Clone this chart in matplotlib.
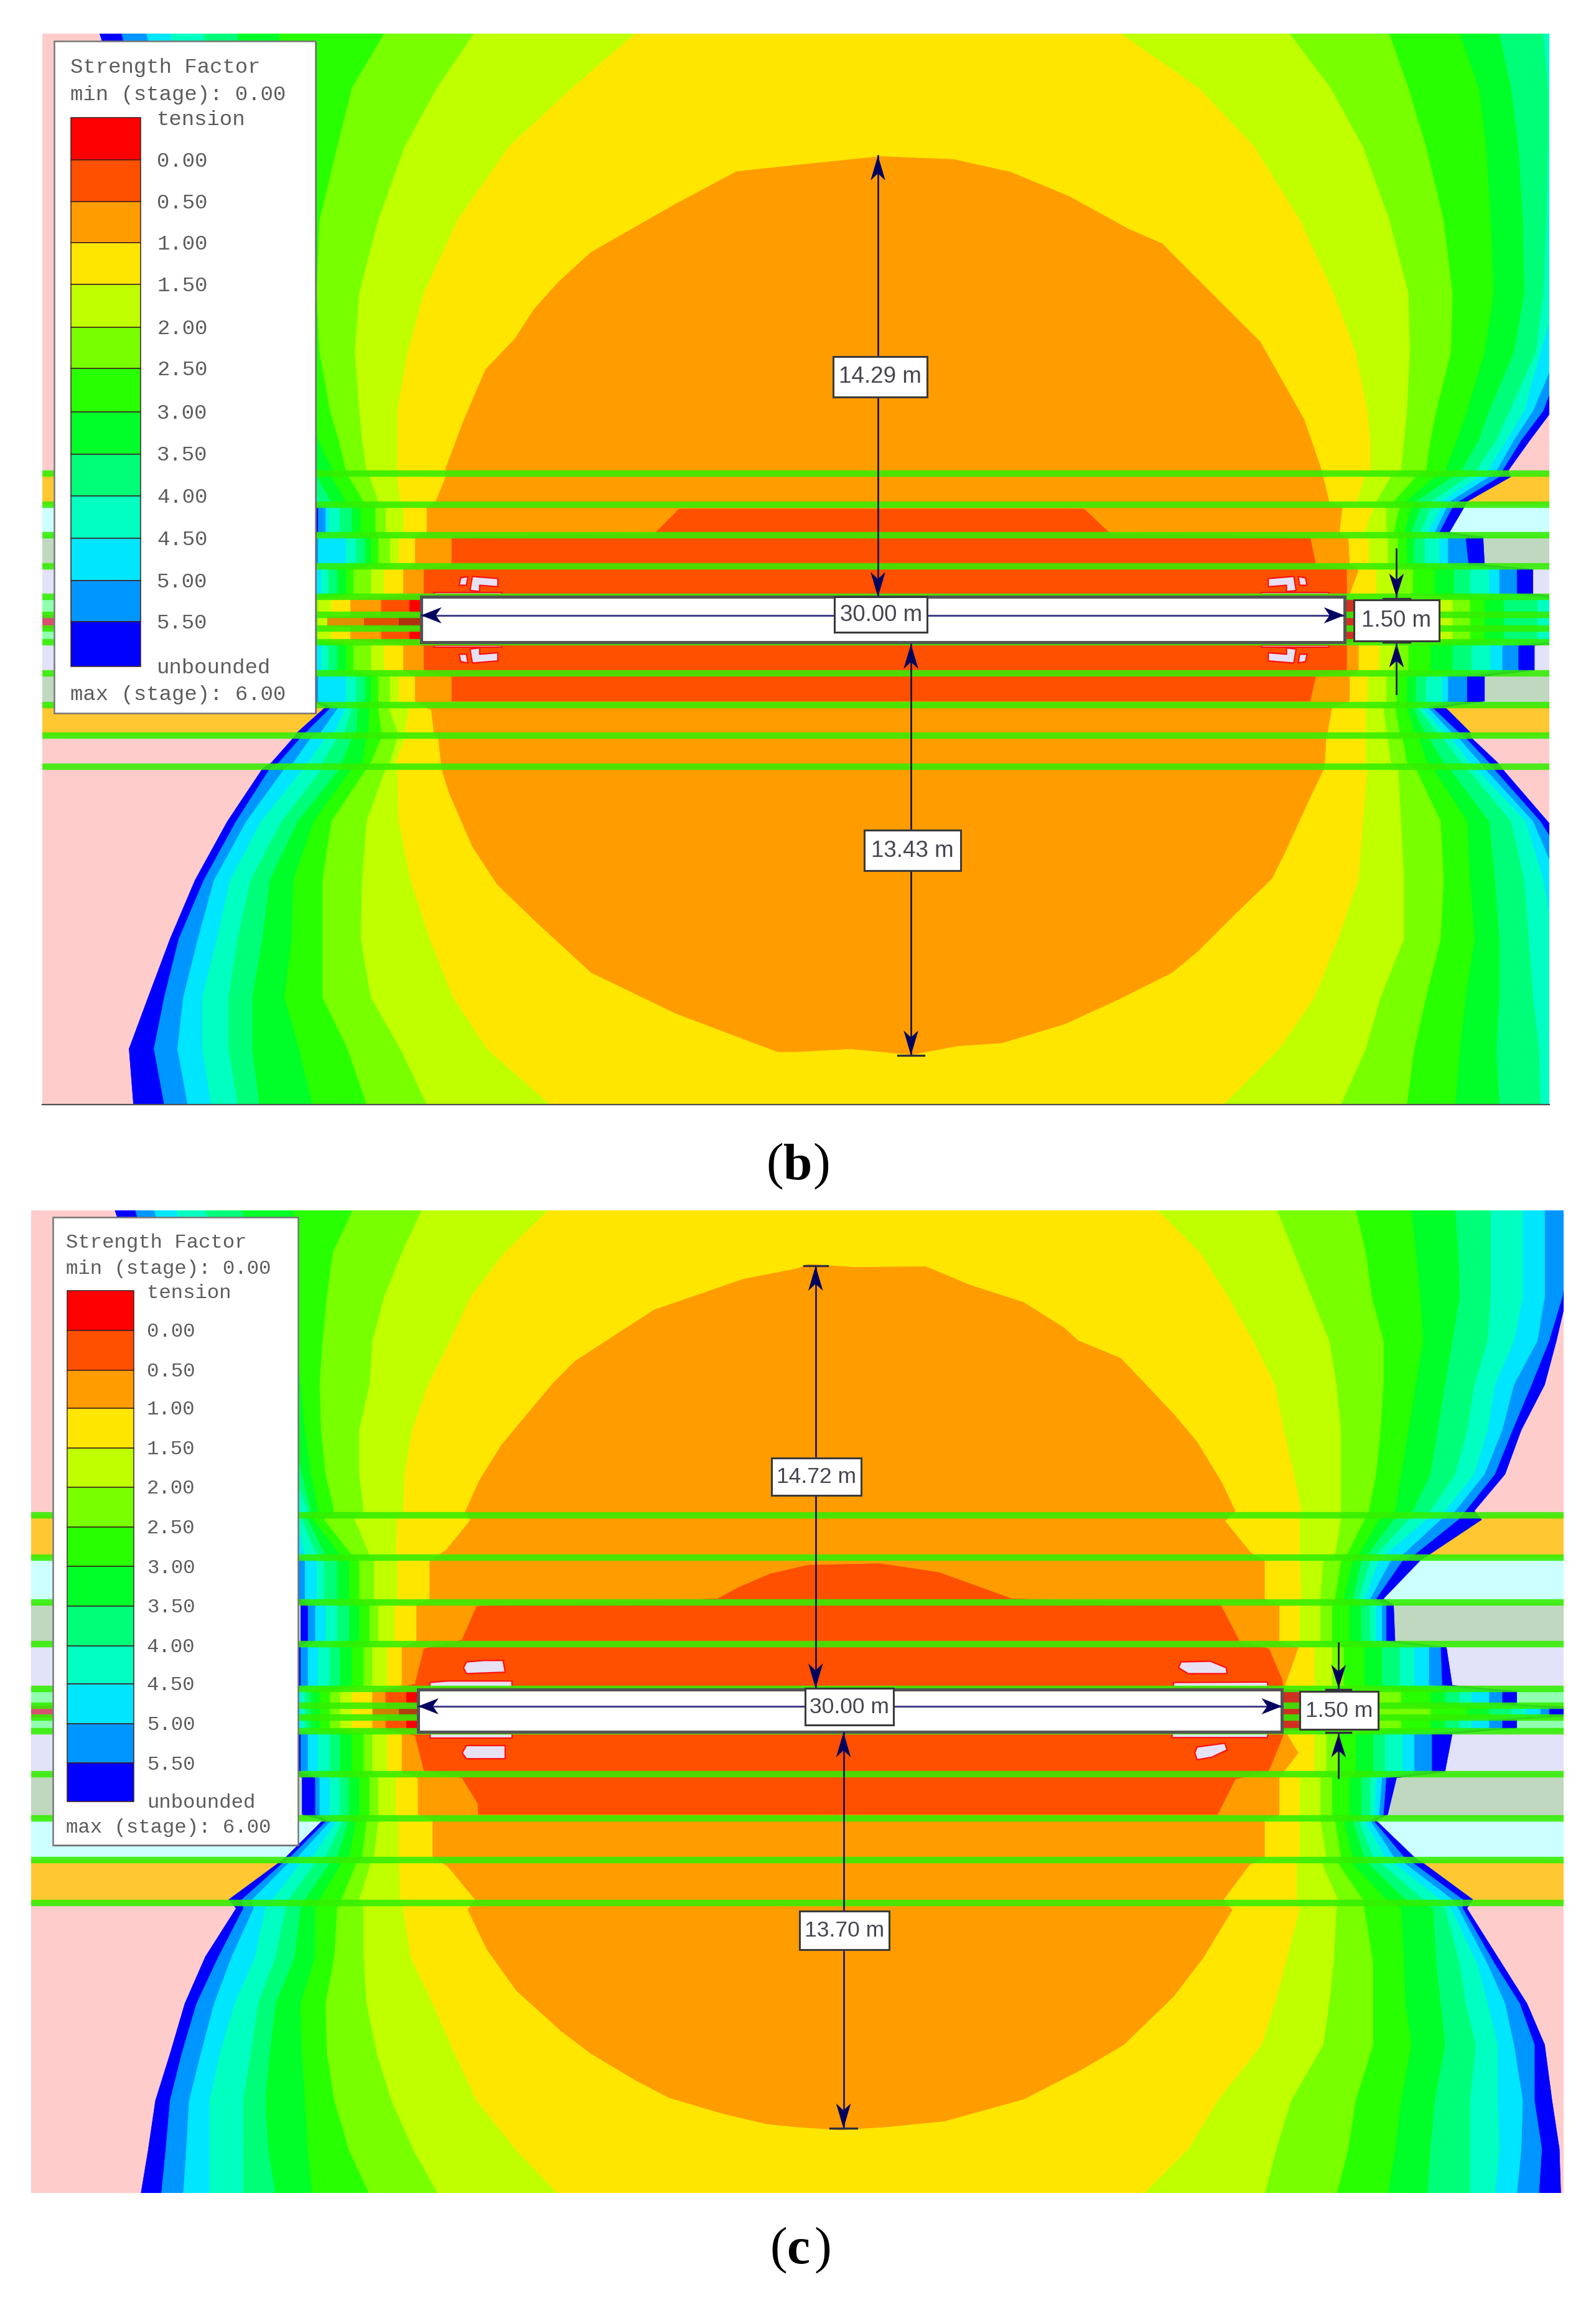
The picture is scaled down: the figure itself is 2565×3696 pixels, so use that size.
import matplotlib
matplotlib.use('Agg')
import matplotlib.pyplot as plt
from matplotlib.patches import Polygon, Rectangle

# all coordinates are picture units (reference shrunk to 1088x1568)

LEVEL_COLORS = ['#0000ff', '#0096ff', '#00e6ff', '#00ffc0', '#00ff78', '#00ff28',
                '#28ff00', '#78ff00', '#bfff00', '#ffe600']
ORANGE = '#ff9c00'
REDORANGE = '#ff5000'
LEGEND_COLORS = ['#ff0000', '#ff5000', '#ff9c00', '#ffe600', '#bfff00', '#78ff00', '#28ff00',
                 '#00ff28', '#00ff78', '#00ffc0', '#00e6ff', '#0096ff', '#0000ff']
LEGEND_VALUES = ['0.00', '0.50', '1.00', '1.50', '2.00', '2.50', '3.00', '3.50',
                 '4.00', '4.50', '5.00', '5.50']

PINK = '#ffcccc'
AMBER = '#ffc833'
PALECYAN = '#ccffff'
GREYGREEN = '#c0d8c0'
LAVENDER = '#e2e2f8'
PALEGREEN = '#90ffb0'

# ---------- panel b ----------
B_PANEL = (29, 1056, 23, 753)
B_LINES = [323, 344, 365, 386, 407, 419, 428.5, 438, 459, 480.5, 501.5, 522.5]
B_STRIPS = [(23, 323, PINK), (323, 344, AMBER), (344, 365, PALECYAN), (365, 386, GREYGREEN),
            (386, 407, LAVENDER), (407, 419, PALEGREEN), (419, 428.5, '#d85070'), (428.5, 438, PALEGREEN),
            (438, 459, LAVENDER), (459, 480.5, GREYGREEN), (480.5, 501.5, AMBER), (501.5, 753, PINK)]

B_RIGHT_Y = [23, 60, 100, 150, 200, 240, 280, 300, 321, 325, 342, 346, 363, 366, 385, 388, 405, 409, 436, 440, 457,
             461, 478, 482, 499, 503, 520, 524, 560, 600, 640, 680, 715, 753]
B_RIGHT = [
    [1142, 1125, 1109, 1075, 1052, 1022, 995, 947, 879, 764],
    [1135, 1115, 1095, 1067, 1055, 1030, 1008, 960, 907, 817],
    [1125, 1109, 1089, 1075, 1055, 1035, 1013, 972, 929, 855],
    [1110, 1095, 1080, 1068, 1054, 1038, 1016, 984, 947, 886],
    [1095, 1082, 1072, 1062, 1052, 1039, 1018, 990, 960, 909],
    [1075, 1067, 1062, 1050, 1047, 1032, 1012, 989, 961, 924],
    [1058, 1052, 1045, 1039, 1029, 1015, 1000, 979, 959, 932],
    [1043, 1037, 1032, 1027, 1020, 1008, 993, 975, 957, 934],
    [1028, 1024, 1020, 1014, 1006, 996, 985, 972, 955, 934],
    [1030, 1022, 1015, 1008, 1000, 990, 978, 965, 948, 930],
    [1000, 994, 988, 982, 975, 965, 958, 950, 938, 925],
    [998, 990, 986, 982, 975, 968, 962, 954, 945, 936],
    [988, 981, 978, 973, 968, 962, 957, 950, 945, 930],
    [1011, 999, 987, 981, 971, 964, 959, 953, 946, 933],
    [1012, 1001, 987, 981, 971, 964, 959, 953, 946, 933],
    [1045, 1034, 1022, 1015, 1002, 991, 978, 963, 951, 938],
    [1045, 1034, 1022, 1015, 1002, 991, 978, 963, 951, 938],
    [1090, 1080, 1070, 1060, 1048, 1025, 1012, 1002, 990, 928],
    [1090, 1080, 1070, 1060, 1048, 1025, 1012, 1002, 990, 928],
    [1046, 1035, 1024, 1016, 1003, 990, 975, 960, 950, 940],
    [1046, 1035, 1024, 1016, 1003, 990, 975, 960, 950, 940],
    [1012, 1000, 987, 983, 972, 965, 959, 952, 945, 932],
    [1012, 1000, 987, 983, 972, 965, 959, 952, 945, 932],
    [985, 976, 973, 969, 966, 963, 959, 951, 943, 931],
    [1002, 994, 989, 984, 979, 971, 964, 954, 945, 931],
    [1003, 999, 994, 989, 983, 974, 967, 956, 946, 931],
    [1021, 1015, 1009, 1002, 996, 984, 973, 959, 948, 931],
    [1024, 1018, 1012, 1006, 1000, 988, 977, 965, 953, 932],
    [1055, 1050, 1045, 1040, 1030, 1015, 1000, 982, 955, 929],
    [1090, 1075, 1062, 1052, 1039, 1019, 1002, 984, 957, 926],
    [1110, 1090, 1075, 1059, 1042, 1022, 1005, 982, 957, 912],
    [1115, 1095, 1080, 1062, 1045, 1022, 999, 972, 941, 896],
    [1120, 1100, 1085, 1068, 1049, 1020, 995, 964, 931, 872],
    [1125, 1109, 1089, 1075, 1050, 1022, 992, 959, 914, 834],
]
B_LEFT_Y = B_RIGHT_Y
B_LEFT = [
    [68, 83, 100, 116, 139, 162, 190, 262, 323, 433],
    [80, 92, 108, 124, 145, 166, 195, 240, 298, 390],
    [90, 100, 115, 130, 150, 170, 200, 230, 276, 347],
    [105, 115, 130, 145, 162, 180, 203, 218, 258, 312],
    [120, 130, 145, 160, 175, 190, 205, 216, 245, 289],
    [135, 145, 158, 170, 182, 195, 208, 218, 242, 278],
    [150, 160, 170, 180, 190, 200, 210, 225, 245, 271],
    [170, 178, 185, 192, 198, 206, 217, 231, 247, 271],
    [190, 194, 198, 203, 208, 214, 227, 236, 250, 271],
    [192, 196, 200, 205, 210, 216, 226, 238, 252, 271],
    [205, 208, 211, 214, 218, 226, 236, 248, 258, 273],
    [213, 217, 222, 224, 232, 240, 246, 256, 263, 275],
    [213, 217, 222, 224, 232, 240, 246, 256, 263, 275],
    [213, 215, 217, 236, 243, 249, 253, 258, 266, 272],
    [213, 215, 217, 236, 243, 249, 253, 258, 266, 272],
    [205, 208, 212, 219, 224, 230, 236, 241, 253, 262],
    [205, 208, 212, 219, 224, 230, 236, 241, 253, 262],
    [190, 193, 196, 199, 202, 205, 208, 211, 217, 226],
    [190, 193, 196, 199, 202, 205, 208, 211, 217, 226],
    [205, 208, 212, 219, 224, 230, 236, 241, 253, 262],
    [205, 208, 212, 219, 224, 230, 236, 241, 253, 262],
    [213, 215, 217, 236, 243, 249, 253, 258, 266, 272],
    [213, 215, 217, 236, 243, 249, 253, 258, 266, 272],
    [222, 226, 231, 236, 240, 244, 252, 258, 265, 279],
    [203, 209, 219, 228, 235, 243, 251, 260, 271, 276],
    [200, 205, 212, 222, 230, 240, 250, 260, 271, 276],
    [185, 190, 200, 210, 220, 233, 247, 253, 266, 270],
    [179, 184, 194, 207, 220, 232, 240, 250, 263, 271],
    [155, 161, 168, 178, 192, 203, 214, 226, 250, 272],
    [133, 139, 146, 157, 171, 184, 200, 220, 247, 280],
    [116, 122, 135, 148, 162, 179, 199, 220, 246, 293],
    [101, 112, 125, 138, 156, 172, 194, 220, 253, 309],
    [88, 105, 121, 138, 156, 172, 204, 237, 273, 332],
    [91, 112, 128, 144, 162, 177, 213, 250, 291, 375],
]
B_ORANGE = [(543, 112.6), (600, 106.7), (650, 108.7), (689, 117.4), (729, 134), (769, 156), (792, 166),
            (836, 210), (859, 233), (889, 286), (900, 318), (902, 325), (906, 342), (915, 346), (913, 363),
            (919, 366), (920, 385), (926, 389), (920, 405), (917, 409), (917, 436), (926, 440), (926, 457),
            (920, 461), (920, 478), (908, 482), (905, 499), (904, 503), (903, 520), (902, 525), (892, 546),
            (876, 581), (867, 599), (842, 623), (816, 649), (799, 663), (763, 681), (726, 698), (683, 711),
            (653, 713), (621, 719), (580, 715), (543, 717), (530, 717), (461, 691), (403, 663), (365, 628),
            (339, 603), (322, 577), (306, 540), (301, 524), (299, 504), (296, 500), (294, 484), (283, 478),
            (283, 461), (275, 457), (275, 440), (239, 436), (239, 409), (275, 405), (275, 388), (283, 385),
            (283, 366), (291, 363), (291, 346), (297, 342), (304, 325), (304, 319), (316, 287), (331, 252),
            (351, 231), (364, 211), (381, 192), (403, 172), (459, 140), (502, 117)]
B_RED = [(463, 347), (739, 347), (757, 364), (893, 366), (897, 385), (918, 388), (918, 405), (917, 409),
         (917, 436), (918, 440), (918, 457), (897, 461), (893, 478), (308, 478), (308, 461), (289, 457),
         (289, 440), (260, 436), (260, 409), (289, 405), (289, 388), (308, 385), (308, 366), (446, 364)]
B_TUNNEL_BITS = [(279, 287, 409, 418, '#ff0000'), (279, 287, 429, 436, '#ff0000'),
                 (223, 248, 420, 427, '#e09000'), (248, 272, 420, 427, '#e05000'),
                 (272, 287, 420, 427, '#b03010'), (917, 923, 408, 438, '#d03020')]
B_ISLANDS = [
    [(864.6, 394.4), (882, 393), (883.6, 402.5), (877, 403.3), (877, 399), (864.6, 400)],
    [(885, 393), (890, 394), (891, 399), (886, 399)],
    [(860, 403.8), (906, 403.8), (906, 405), (860, 405)],
    [(864.6, 450.6), (882, 452), (883.6, 442.5), (877, 441.7), (877, 446), (864.6, 445)],
    [(885, 452), (890, 451), (891, 446), (886, 446)],
    [(860, 440), (906, 440), (906, 441.2), (860, 441.2)],
    [(339.4, 394.4), (322, 393), (320.4, 402.5), (327, 403.3), (327, 399), (339.4, 400)],
    [(319, 393), (314, 394), (313, 399), (318, 399)],
    [(296, 403.8), (342, 403.8), (342, 405), (296, 405)],
    [(339.4, 450.6), (322, 452), (320.4, 442.5), (327, 441.7), (327, 446), (339.4, 445)],
    [(319, 452), (314, 451), (313, 446), (318, 446)],
    [(296, 440), (342, 440), (342, 441.2), (296, 441.2)],
]

# ---------- panel c ----------
C_PANEL = (21, 1066, 825, 1495)
C_LINES = [1033, 1062, 1092.4, 1121, 1151.5, 1163, 1171, 1180.4, 1209.6, 1239.5, 1268, 1297.4]
C_STRIPS = [(825, 1033, PINK), (1033, 1062, AMBER), (1062, 1092.4, PALECYAN), (1092.4, 1121, GREYGREEN),
            (1121, 1151.5, LAVENDER), (1151.5, 1163, PALEGREEN), (1163, 1171, '#d85070'), (1171, 1180.4, PALEGREEN),
            (1180.4, 1209.6, LAVENDER), (1209.6, 1239.5, GREYGREEN), (1239.5, 1268, PALECYAN),
            (1268, 1297.4, AMBER), (1297.4, 1495, PINK)]

C_RIGHT_Y = [824, 854, 884, 914, 944, 975, 1005, 1030, 1036, 1060, 1064, 1090, 1094, 1119, 1123, 1149, 1153, 1162,
             1164, 1170, 1172, 1178, 1182, 1208, 1212, 1237, 1241, 1266, 1270, 1295, 1301, 1339, 1366, 1394, 1432,
             1465, 1496]
C_RIGHT = [
    [1083, 1068, 1053, 1038, 1016, 992, 962, 924, 870, 788],
    [1075, 1070, 1053, 1038, 1016, 994, 965, 931, 882, 818],
    [1068, 1065, 1053, 1038, 1016, 995, 968, 935, 894, 837],
    [1061, 1056, 1048, 1032, 1014, 990, 970, 943, 906, 854],
    [1053, 1044, 1032, 1019, 1005, 985, 965, 943, 911, 869],
    [1037, 1031, 1024, 1014, 1000, 980, 960, 941, 914, 875],
    [1026, 1019, 1012, 1005, 992, 975, 955, 938, 914, 882],
    [1005, 999, 992, 985, 975, 963, 951, 933, 914, 887],
    [1010, 994, 982, 972, 960, 950, 940, 930, 914, 886],
    [974, 964, 956, 944, 938, 932, 926, 918, 910, 886],
    [968, 956, 948, 940, 934, 928, 922, 914, 902, 886],
    [943, 938, 934, 930, 926, 922, 916, 910, 900, 887],
    [950, 945, 942, 938, 934, 928, 920, 908, 900, 886],
    [951, 945, 942, 938, 934, 928, 920, 908, 900, 886],
    [986, 982, 974, 964, 954, 942, 930, 916, 908, 896],
    [990, 983, 974, 964, 954, 942, 930, 916, 908, 896],
    [1034, 1024, 1015, 1003, 995, 985, 975, 955, 925, 885],
    [1034, 1024, 1015, 1003, 995, 985, 975, 955, 925, 885],
    [1066, 1056, 1050, 1040, 1030, 1015, 1000, 975, 940, 885],
    [1066, 1056, 1050, 1040, 1030, 1015, 1000, 975, 940, 885],
    [1034, 1024, 1015, 1003, 995, 985, 975, 955, 925, 885],
    [1034, 1024, 1015, 1003, 995, 985, 975, 955, 925, 885],
    [990, 976, 964, 956, 944, 936, 924, 912, 904, 896],
    [985, 976, 964, 956, 944, 936, 924, 912, 904, 896],
    [952, 945, 942, 938, 934, 928, 920, 908, 900, 886],
    [946, 943, 940, 937, 934, 928, 920, 908, 900, 886],
    [938, 936, 934, 930, 926, 922, 916, 910, 900, 886],
    [964, 957, 950, 944, 936, 930, 922, 914, 904, 886],
    [970, 963, 957, 950, 941, 932, 921, 912, 901, 884],
    [1004, 997, 990, 982, 970, 958, 945, 929, 912, 884],
    [1000, 997, 994, 989, 985, 977, 955, 930, 911, 886],
    [1024, 1019, 1014, 1007, 995, 979, 957, 936, 909, 876],
    [1041, 1036, 1026, 1014, 999, 982, 958, 936, 906, 869],
    [1053, 1046, 1032, 1021, 1006, 985, 962, 936, 902, 860],
    [1058, 1046, 1038, 1021, 1002, 978, 955, 924, 880, 830],
    [1063, 1051, 1037, 1022, 1002, 975, 951, 919, 870, 810],
    [1064, 1049, 1034, 1019, 1002, 973, 946, 911, 862, 779],
]
C_LEFT_Y = [824, 854, 884, 914, 944, 975, 1005, 1030, 1036, 1060, 1064, 1090, 1094, 1119, 1123, 1149, 1153, 1178,
            1182, 1208, 1212, 1237, 1241, 1266, 1270, 1295, 1301, 1334, 1366, 1400, 1432, 1466, 1496]
C_LEFT = [
    [78, 92, 105, 120, 140, 165, 200, 241, 288, 375],
    [88, 100, 112, 128, 148, 170, 200, 227, 274, 344],
    [100, 110, 125, 140, 160, 175, 200, 223, 262, 321],
    [110, 120, 135, 150, 168, 182, 202, 220, 254, 307],
    [120, 130, 145, 160, 175, 190, 205, 218, 252, 292],
    [138, 148, 160, 175, 188, 198, 208, 219, 245, 281],
    [155, 165, 175, 190, 200, 206, 212, 222, 245, 276],
    [175, 185, 195, 205, 210, 212, 217, 228, 248, 275],
    [180, 190, 198, 202, 206, 210, 214, 221, 242, 271],
    [190, 198, 203, 208, 216, 222, 232, 240, 252, 270],
    [200, 204, 208, 216, 221, 230, 238, 245, 255, 271],
    [200, 204, 208, 216, 221, 230, 238, 245, 255, 271],
    [205, 210, 215, 222, 230, 238, 245, 252, 258, 269],
    [205, 210, 215, 222, 230, 238, 245, 252, 258, 269],
    [200, 205, 210, 217, 225, 232, 240, 248, 254, 264],
    [200, 205, 210, 217, 225, 232, 240, 248, 254, 264],
    [198, 200, 202, 205, 208, 212, 218, 225, 232, 240],
    [198, 200, 202, 205, 208, 212, 218, 225, 232, 240],
    [200, 205, 210, 217, 225, 232, 240, 248, 254, 264],
    [200, 205, 210, 217, 225, 232, 240, 248, 254, 264],
    [206, 215, 218, 225, 232, 238, 245, 252, 258, 270],
    [206, 215, 218, 225, 232, 238, 245, 252, 258, 270],
    [220, 223, 226, 230, 234, 238, 243, 250, 258, 272],
    [195, 198, 203, 213, 222, 230, 238, 247, 255, 272],
    [190, 193, 197, 205, 215, 225, 233, 243, 253, 272],
    [156, 165, 172, 186, 197, 208, 218, 233, 245, 273],
    [161, 166, 173, 181, 195, 205, 215, 230, 248, 275],
    [140, 149, 158, 174, 188, 201, 215, 228, 248, 280],
    [126, 134, 146, 160, 176, 188, 205, 222, 250, 295],
    [116, 124, 137, 150, 171, 184, 206, 223, 257, 310],
    [106, 116, 129, 143, 166, 181, 208, 228, 267, 325],
    [101, 113, 127, 143, 166, 183, 210, 238, 282, 352],
    [96, 110, 125, 143, 166, 188, 213, 252, 299, 381],
]
C_ORANGE = [(551, 862), (583, 864), (631, 863.5), (661, 876), (698, 888), (725, 905), (735, 914), (764, 926),
            (783, 946), (800, 964), (816, 983), (833, 1011), (842, 1030), (835, 1037), (853, 1059), (862, 1064),
            (862, 1090), (872, 1094), (872, 1119), (885, 1123), (876, 1149), (875, 1153), (875, 1179), (877, 1182),
            (885, 1195), (875, 1208), (872, 1212), (872, 1237), (862, 1241), (862, 1266), (852, 1271), (834, 1295),
            (838, 1300), (840, 1302), (820, 1335), (800, 1361), (766, 1394), (737, 1411), (698, 1431), (644, 1446),
            (604, 1450), (573, 1452), (543, 1450), (523, 1448), (493, 1441), (456, 1430), (433, 1418), (403, 1400),
            (383, 1385), (352, 1357), (332, 1329), (319, 1302), (324, 1295), (305, 1272), (295, 1266), (295, 1241),
            (285, 1237), (285, 1212), (274, 1208), (274, 1182), (254, 1178), (254, 1153), (274, 1149), (274, 1123),
            (284, 1119), (284, 1094), (293, 1090), (293, 1064), (304, 1057), (321, 1036), (317, 1031), (327, 1009),
            (342, 985), (377, 943), (392, 928), (446, 893), (507, 872), (543, 865)]
C_RED = [(489, 1090), (504, 1082), (525, 1073), (551, 1067), (600, 1066), (640, 1072), (690, 1090), (832, 1094),
         (845, 1119), (865, 1124), (874, 1145), (875, 1153), (875, 1179), (874, 1185), (865, 1207), (842, 1213),
         (830, 1237), (326, 1237), (326, 1230), (315, 1212), (289, 1207), (283, 1183), (263, 1179), (263, 1153),
         (283, 1148), (289, 1124), (315, 1118), (325, 1095)]
C_TUNNEL_BITS = [(277, 285, 1153, 1162, '#ff0000'), (277, 285, 1172, 1179, '#ff0000'),
                 (254, 272, 1164, 1170, '#d08000'), (272, 285, 1164, 1170, '#b04010'),
                 (875, 886, 1152, 1180, '#d03020')]
C_ISLANDS = [
    [(318, 1133), (330, 1132), (343, 1132), (344.4, 1140), (318, 1141), (316, 1137)],
    [(293, 1147), (305, 1146), (349, 1146), (349, 1150.5), (293, 1150.5)],
    [(293, 1182), (349, 1182), (349, 1185), (293, 1185)],
    [(318, 1190), (344.4, 1190), (344.4, 1199), (318, 1199), (315, 1195)],
    [(805, 1133), (825, 1132.5), (836, 1137), (836.5, 1141), (810, 1141), (803.5, 1137)],
    [(800, 1147), (864, 1146.7), (864.5, 1150.5), (800, 1150.5)],
    [(799, 1181), (864.5, 1181), (864, 1184.6), (799, 1184.6)],
    [(816, 1191), (835, 1188.4), (836.5, 1193), (826, 1198), (816, 1199.7), (814.5, 1195)],
]

LEGEND_LINES = ['Strength Factor', 'min (stage): 0.00', 'max (stage): 6.00']

fig = plt.figure(figsize=(25.65, 36.96), dpi=100)
ax = fig.add_axes([0, 0, 1, 1])
ax.set_xlim(0, 1088)
ax.set_ylim(1568, 0)
ax.axis('off')


def arrow_head(tip_x, tip_y, dx, dy, length=16, half=5):
    # notched head pointing along (dx, dy)
    back_x = tip_x - dx * length
    back_y = tip_y - dy * length
    mid_x = tip_x - dx * length * 0.72
    mid_y = tip_y - dy * length * 0.72
    ax.fill([tip_x, back_x - dy * half, mid_x, back_x + dy * half],
            [tip_y, back_y - dx * half, mid_y, back_y + dx * half],
            color='#000060', lw=0, zorder=9)


def label_box(x0, x1, y0, y1, text, size=26.5):
    ax.add_patch(Rectangle((x0, y0), x1 - x0, y1 - y0, fc='white', ec='#3a3a3a', lw=2.2, zorder=10))
    ax.text((x0 + x1) / 2, (y0 + y1) / 2 + 0.3, text, ha='center', va='center', fontsize=size,
            family='Liberation Sans', color='#454550', zorder=11)


def draw_field(panel, lines, strips, right_y, right, left_y, left, orange, red, bits, islands):
    x0, x1, y0, y1 = panel
    clip = Rectangle((x0, y0), x1 - x0, y1 - y0, transform=ax.transData)
    for top, bottom, col in strips:
        ax.add_patch(Rectangle((x0, top), x1 - x0, bottom - top, fc=col, ec='none', zorder=1))
    for i, col in enumerate(LEVEL_COLORS):
        pts = [(row[i], y) for row, y in zip(right, right_y)]
        pts += [(row[i], y) for row, y in zip(left[::-1], left_y[::-1])]
        poly = Polygon(pts, closed=True, fc=col, ec=col, lw=0.5, zorder=2 + i * 0.01)
        ax.add_patch(poly)
        poly.set_clip_path(clip)
    ax.add_patch(Polygon(orange, closed=True, fc=ORANGE, ec=ORANGE, lw=0.5, zorder=3))
    ax.add_patch(Polygon(red, closed=True, fc=REDORANGE, ec=REDORANGE, lw=0.5, zorder=3.1))
    for xa, xb, ya, yb, col in bits:
        ax.add_patch(Rectangle((xa, ya), xb - xa, yb - ya, fc=col, ec='none', zorder=3.2))
    for shape in islands:
        ax.add_patch(Polygon(shape, closed=True, fc='#e6e2f4', ec='#ff1010', lw=1.6, zorder=3.3,
                             joinstyle='round'))
    for y in lines:
        ax.plot([x0, x1], [y, y], color='#33ee00', alpha=0.88, lw=7.5, solid_capstyle='butt', zorder=4)


def draw_tunnel(x0, x1, y0, y1):
    ax.add_patch(Rectangle((x0, y0), x1 - x0, y1 - y0, fc='white', ec='#555555', lw=3.6, zorder=6))
    mid = (y0 + y1) / 2 - 3
    ax.plot([x0, x1], [mid, mid], color='#404088', lw=2.2, zorder=7)
    arrow_head(x0, mid, -1, 0, length=14, half=5.5)
    arrow_head(x1, mid, 1, 0, length=14, half=5.5)


def draw_legend(x0, x1, y0, y1, text_x, sw_x0, sw_x1, label_x, title_y, min_y, max_y, edges, size):
    ax.add_patch(Rectangle((x0 + 0.8, y0 + 0.8), x1 - x0, y1 - y0, fc='#333333', ec='none', zorder=12))
    ax.add_patch(Rectangle((x0, y0), x1 - x0, y1 - y0, fc='white', ec='#777777', lw=1.8, zorder=12.5))
    for i, col in enumerate(LEGEND_COLORS):
        ax.add_patch(Rectangle((sw_x0, edges[i]), sw_x1 - sw_x0, edges[i + 1] - edges[i], fc=col,
                               ec='#402020', lw=1.1, zorder=13))
    style = dict(family='Liberation Mono', fontsize=size, color='#5c5c5c', va='center', zorder=14)
    ax.text(text_x, title_y + 1, LEGEND_LINES[0], **style)
    ax.text(text_x, min_y + 1, LEGEND_LINES[1], **style)
    ax.text(text_x, max_y + 1, LEGEND_LINES[2], **style)
    ax.text(label_x, edges[0] + 1.5, 'tension', **style)
    for i, val in enumerate(LEGEND_VALUES):
        ax.text(label_x, edges[i + 1] + 1, val, **style)
    ax.text(label_x, edges[-1] + 1, 'unbounded', **style)


def vertical_dim(x, top, bottom, cap_top=False, cap_bottom=False):
    ax.plot([x, x], [top, bottom], color='#101040', lw=1.9, zorder=8)
    arrow_head(x, top, 0, -1, length=17, half=5)
    arrow_head(x, bottom, 0, 1, length=17, half=5)
    if cap_top:
        ax.plot([x - 8, x + 8], [top, top], color='#303040', lw=2.4, zorder=8)
    if cap_bottom:
        ax.plot([x - 9, x + 9], [bottom, bottom], color='#303040', lw=2.4, zorder=8)


def panel_letter(x_open, x_letter, x_close, y, letter):
    style = dict(family='Liberation Serif', fontsize=60, color='black', va='center', ha='left')
    ax.text(x_open, y, '(', **style)
    ax.text(x_letter, y, letter, fontweight='bold', **style)
    ax.text(x_close, y, ')', **style)


# panel b
draw_field(B_PANEL, B_LINES, B_STRIPS, B_RIGHT_Y, B_RIGHT, B_LEFT_Y, B_LEFT, B_ORANGE, B_RED,
           B_TUNNEL_BITS, B_ISLANDS)
ax.plot([29, 1056], [753, 753], color='#505050', lw=1.6, zorder=5)
draw_tunnel(287, 916.5, 407, 438)
vertical_dim(598.5, 106, 407)
vertical_dim(621, 439, 719.5, cap_bottom=True)
label_box(568, 632, 243, 270.5, '14.29 m')
label_box(589, 655, 566, 593.5, '13.43 m')
label_box(569, 632, 407, 431, '30.00 m')
# 1.50 m thickness arrows
ax.plot([952, 952], [374, 407], color='#101040', lw=1.9, zorder=8)
ax.plot([952, 952], [439, 473], color='#101040', lw=1.9, zorder=8)
arrow_head(952, 407, 0, 1)
arrow_head(952, 439, 0, -1)
ax.plot([943, 961], [408, 408], color='#303040', lw=2.4, zorder=8)
ax.plot([943, 961], [438, 438], color='#303040', lw=2.4, zorder=8)
label_box(923, 981, 409, 437, '1.50 m')
draw_legend(37, 215, 28, 486, 48, 48.5, 96, 107, 45, 63.5, 472.5,
            [80.2, 109.2, 137.4, 165.5, 194, 223, 251, 281, 309.5, 338, 367, 395.7, 424, 454.4], 24.5)
panel_letter(522.5, 534, 554, 795.5, 'b')

# panel c
draw_field(C_PANEL, C_LINES, C_STRIPS, C_RIGHT_Y, C_RIGHT, C_LEFT_Y, C_LEFT, C_ORANGE, C_RED,
           C_TUNNEL_BITS, C_ISLANDS)
draw_tunnel(285, 874, 1152, 1180.5)
vertical_dim(556, 863, 1151, cap_top=True)
vertical_dim(575, 1181, 1451, cap_bottom=True)
label_box(526, 587, 994, 1019.5, '14.72 m', size=25.5)
label_box(545, 606, 1303, 1329, '13.70 m', size=25.5)
label_box(549, 609, 1151, 1176, '30.00 m', size=25.5)
ax.plot([912.5, 912.5], [1120, 1151], color='#101040', lw=1.9, zorder=8)
ax.plot([912.5, 912.5], [1182, 1212], color='#101040', lw=1.9, zorder=8)
arrow_head(912.5, 1151, 0, 1)
arrow_head(912.5, 1182, 0, -1)
ax.plot([904, 921], [1152, 1152], color='#303040', lw=2.4, zorder=8)
ax.plot([904, 921], [1181, 1181], color='#303040', lw=2.4, zorder=8)
label_box(886, 939.5, 1153, 1179, '1.50 m', size=25.5)
draw_legend(36, 203, 830, 1258, 45, 46, 91, 100, 846, 864, 1245,
            [880, 907, 934, 960, 987, 1014, 1041, 1068, 1095, 1122, 1148, 1175, 1202, 1228], 23.3)
panel_letter(525, 536, 555, 1534.5, 'c')

fig.savefig('out.png', dpi=100)
